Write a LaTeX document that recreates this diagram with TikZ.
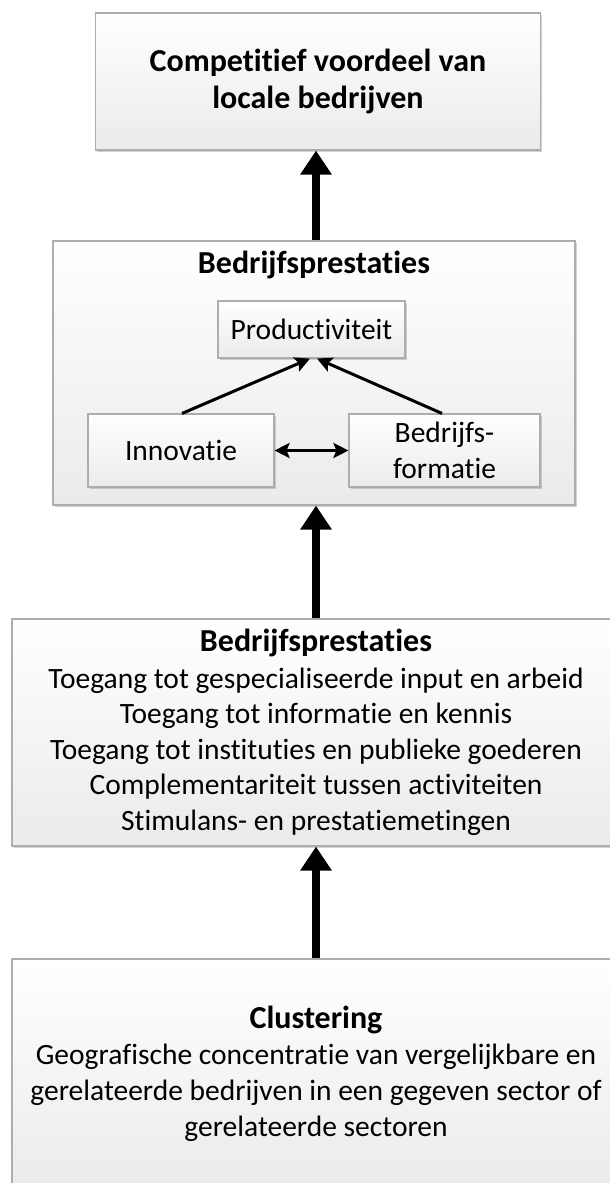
\documentclass[tikz,border=0pt]{standalone}
\usepackage{fontspec}
\setmainfont{Carlito}[Ligatures=NoCommon]
\usetikzlibrary{shadows,arrows.meta}
\begin{document}
\begin{tikzpicture}[x=1pt,y=-1pt,
  panel/.style={draw=black!32, line width=1.1pt, top color=white, bottom color=black!8,
    drop shadow={shadow xshift=1.5pt, shadow yshift=-1.5pt, fill=black!40, opacity=0.45},
    inner sep=0pt, align=center, font=\fontsize{29.5}{35.5}\selectfont},
  bigarrow/.style={line width=8pt, -{Triangle[width=30pt,length=24pt]}},
  smallarrow/.style={line width=3pt, -{Stealth[width=15pt,length=15pt,inset=3pt]}},
  title/.style={font=\bfseries\fontsize{32}{37}\selectfont, inner sep=0pt}]
\useasboundingbox (0,0) rectangle (610,1183);
\clip (0,0) rectangle (610,1183);

% top: competitive advantage
\node[panel, minimum width=445pt, minimum height=137pt,
      font=\bfseries\fontsize{32}{37}\selectfont] (top) at (318,81.5)
  {Competitief voordeel van\\locale bedrijven};

% firm performance with its three components
\node[panel, minimum width=522pt, minimum height=264pt] (mid) at (314,373) {};
\node[title] (midtitle) at (314,265) {Bedrijfsprestaties};
\node[panel, minimum width=187pt, minimum height=57pt] (prod) at (311.5,329.5) {Productiviteit};
\node[panel, minimum width=186pt, minimum height=73pt] (innov) at (181,450.5) {Innovatie};
\node[panel, minimum width=191pt, minimum height=73pt] (form) at (444.5,450.5) {Bedrijfs-\\formatie};

% mechanisms
\node[panel, minimum width=608pt, minimum height=227pt] (mech) at (316,732.5)
  {{\bfseries\fontsize{32}{37}\selectfont Bedrijfsprestaties}\\[1pt]
   Toegang tot gespecialiseerde input en arbeid\\
   Toegang tot informatie en kennis\\
   Toegang tot instituties en publieke goederen\\
   Complementariteit tussen activiteiten\\
   Stimulans- en prestatiemetingen};

% clustering
\node[panel, minimum width=608pt, minimum height=230pt,
      font=\fontsize{29.5}{36}\selectfont] (clus) at (316,1074)
  {{\bfseries\fontsize{32}{37}\selectfont Clustering}\\
   Geografische concentratie van vergelijkbare en\\
   gerelateerde bedrijven in een gegeven sector of\\
   gerelateerde sectoren};

% connectors
\draw[bigarrow] (clus.north -| 316,0) -- (mech.south -| 316,0);
\draw[bigarrow] (mech.north -| 316,0) -- (mid.south -| 316,0);
\draw[bigarrow] (mid.north -| 316,0) -- (top.south -| 316,0);

\coordinate (innovtop) at (182,414);
\coordinate (formtop) at (442,414);
\draw[smallarrow] (innov.north -| innovtop) -- (prod.south -| 310,0);
\draw[smallarrow] (form.north -| formtop) -- (prod.south -| 317,0);
\draw[line width=3pt, {Stealth[width=15pt,length=15pt,inset=3pt]}-{Stealth[width=15pt,length=15pt,inset=3pt]}]
  (innov.east) -- (form.west);
\end{tikzpicture}
\end{document}
